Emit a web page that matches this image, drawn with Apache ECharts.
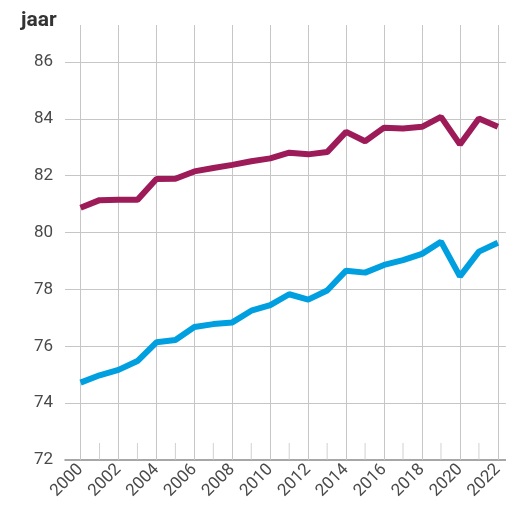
<!DOCTYPE html>
<html lang="nl">
<head>
    <meta charset="UTF-8"/>
    <script src="https://cdn.jsdelivr.net/npm/echarts@6/dist/echarts.min.js"></script>
    <title>Levensverwachting</title>
    <style>
        html, body {
            margin: 0;
            padding: 0;
            background: #fff;
        }
        #chart {
            width: 506px;
            height: 509px;
        }
    </style>
</head>
<body>
<div id="chart"></div>
<script type="text/javascript">
    var years = [2000, 2001, 2002, 2003, 2004, 2005, 2006, 2007, 2008, 2009, 2010, 2011,
        2012, 2013, 2014, 2015, 2016, 2017, 2018, 2019, 2020, 2021, 2022];
    var vrouwen = [80.87, 81.14, 81.15, 81.15, 81.88, 81.89, 82.15, 82.27, 82.38, 82.51, 82.61, 82.81,
        82.75, 82.83, 83.54, 83.21, 83.69, 83.66, 83.72, 84.07, 83.10, 84.01, 83.72];
    var mannen = [74.72, 74.98, 75.17, 75.48, 76.14, 76.22, 76.68, 76.78, 76.84, 77.25, 77.45, 77.83,
        77.64, 77.96, 78.66, 78.59, 78.86, 79.03, 79.25, 79.68, 78.46, 79.33, 79.64];
    var yearLabels = [2000, 2002, 2004, 2006, 2008, 2010, 2012, 2014, 2016, 2018, 2020, 2022];
    var oddYears = [2001, 2003, 2005, 2007, 2009, 2011, 2013, 2015, 2017, 2019, 2021];

    function pairs(vals) {
        var out = [];
        for (var i = 0; i < years.length; i++) {
            out.push([years[i], vals[i]]);
        }
        return out;
    }

    var gridColor = '#c6c6c6';
    var labelColor = '#4a4a4a';

    var myChart = echarts.init(document.getElementById('chart'));
    var option = {
        animation: false,
        title: {
            text: 'jaar',
            left: 16,
            top: 5,
            textStyle: {
                fontFamily: 'Roboto',
                fontSize: 21,
                fontWeight: 'bold',
                color: '#333'
            }
        },
        grid: {
            left: 65,
            right: 0,
            top: 25,
            bottom: 49
        },
        xAxis: {
            type: 'value',
            min: 1999.18,
            max: 2022.42,
            axisLine: {
                lineStyle: { color: '#8a8a8a', width: 1.5 }
            },
            axisTick: { show: false },
            axisLabel: {
                customValues: yearLabels,
                rotate: 45,
                margin: 7,
                fontFamily: 'Roboto',
                fontSize: 17,
                color: labelColor,
                formatter: function (v) { return String(v); }
            },
            splitLine: { show: false }
        },
        yAxis: {
            type: 'value',
            min: 72,
            max: 87.3,
            interval: 2,
            axisLine: { show: false },
            axisTick: { show: false },
            axisLabel: {
                margin: 12,
                showMaxLabel: false,
                fontFamily: 'Roboto',
                fontSize: 17,
                color: labelColor
            },
            splitLine: {
                showMinLine: false,
                showMaxLine: false,
                lineStyle: { color: gridColor, width: 1 }
            }
        },
        series: [
            {
                // korte streepjes op de oneven jaren
                name: 'ticks',
                type: 'scatter',
                z: 1,
                silent: true,
                clip: false,
                symbol: 'rect',
                symbolSize: [1, 17],
                symbolOffset: [0, -8.5],
                itemStyle: { color: gridColor },
                data: oddYears.map(function (y) { return [y, 72]; })
            },
            {
                name: 'vrouwen',
                type: 'line',
                z: 3,
                data: pairs(vrouwen),
                showSymbol: false,
                lineStyle: { color: '#9c1b58', width: 6 },
                itemStyle: { color: '#9c1b58' }
            },
            {
                name: 'mannen',
                type: 'line',
                z: 3,
                data: pairs(mannen),
                showSymbol: false,
                lineStyle: { color: '#009fe0', width: 6 },
                itemStyle: { color: '#009fe0' },
                markLine: {
                    z: 1,
                    silent: true,
                    symbol: ['none', 'none'],
                    label: { show: false },
                    emphasis: { disabled: true },
                    lineStyle: { color: gridColor, width: 1, type: 'solid' },
                    data: yearLabels.map(function (y) { return { xAxis: y }; })
                }
            }
        ]
    };
    myChart.setOption(option);
</script>
</body>
</html>
